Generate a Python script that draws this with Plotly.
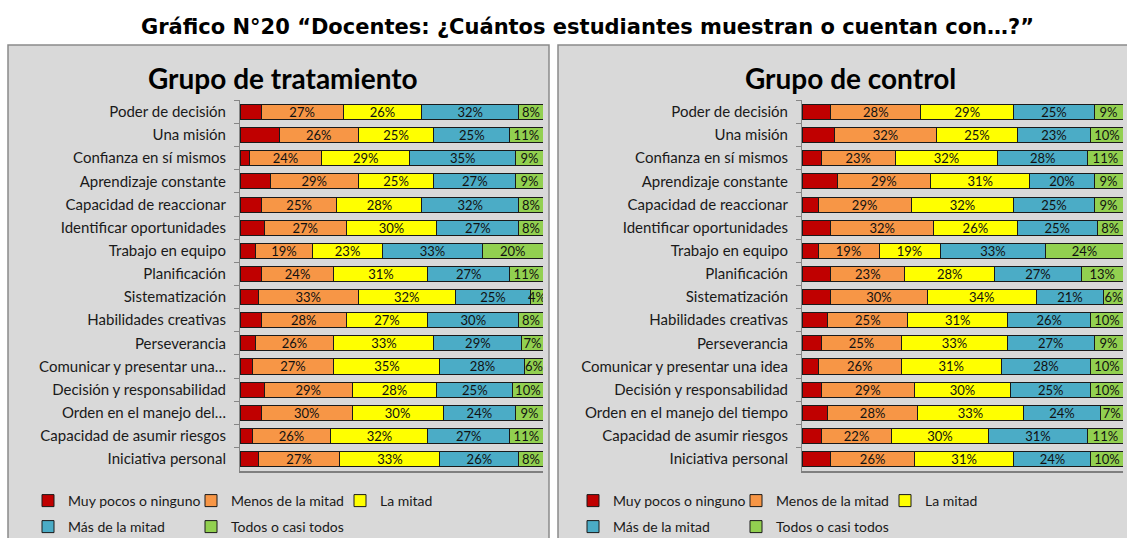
import plotly.graph_objects as go

W, H = 1127, 538

series_names = ["Muy pocos o ninguno", "Menos de la mitad", "La mitad", "Más de la mitad", "Todos o casi todos"]
series_colors = ["#C00000", "#F79646", "#FFFF00", "#4BACC6", "#92D050"]

cats_trat = ["Poder de decisión", "Una misión", "Confianza en sí mismos", "Aprendizaje constante",
             "Capacidad de reaccionar", "Identificar oportunidades", "Trabajo en equipo", "Planificación",
             "Sistematización", "Habilidades creativas", "Perseverancia", "Comunicar y presentar una…",
             "Decisión y responsabilidad", "Orden en el manejo del…", "Capacidad de asumir riesgos",
             "Iniciativa personal"]
cats_ctrl = ["Poder de decisión", "Una misión", "Confianza en sí mismos", "Aprendizaje constante",
             "Capacidad de reaccionar", "Identificar oportunidades", "Trabajo en equipo", "Planificación",
             "Sistematización", "Habilidades creativas", "Perseverancia", "Comunicar y presentar una idea",
             "Decisión y responsabilidad", "Orden en el manejo del tiempo", "Capacidad de asumir riesgos",
             "Iniciativa personal"]

# Grupo de tratamiento
trat_muy_pocos = [7, 13, 3, 10, 7, 8, 5, 7, 6, 7, 5, 4, 8, 7, 4, 6]
trat_menos = [27, 26, 24, 29, 25, 27, 19, 24, 33, 28, 26, 27, 29, 30, 26, 27]
trat_mitad = [26, 25, 29, 25, 28, 30, 23, 31, 32, 27, 33, 35, 28, 30, 32, 33]
trat_mas = [32, 25, 35, 27, 32, 27, 33, 27, 25, 30, 29, 28, 25, 24, 27, 26]
trat_todos = [8, 11, 9, 9, 8, 8, 20, 11, 4, 8, 7, 6, 10, 9, 11, 8]

# Grupo de control
ctrl_muy_pocos = [9, 10, 6, 11, 5, 9, 5, 9, 9, 8, 6, 5, 6, 8, 6, 9]
ctrl_menos = [28, 32, 23, 29, 29, 32, 19, 23, 30, 25, 25, 26, 29, 28, 22, 26]
ctrl_mitad = [29, 25, 32, 31, 32, 26, 19, 28, 34, 31, 33, 31, 30, 33, 30, 31]
ctrl_mas = [25, 23, 28, 20, 25, 25, 33, 27, 21, 26, 27, 28, 25, 24, 31, 24]
ctrl_todos = [9, 10, 11, 9, 9, 8, 24, 13, 6, 10, 9, 10, 10, 7, 11, 10]

trat = [trat_muy_pocos, trat_menos, trat_mitad, trat_mas, trat_todos]
ctrl = [ctrl_muy_pocos, ctrl_menos, ctrl_mitad, ctrl_mas, ctrl_todos]

FONT = "Lato"
fig = go.Figure()

# legend entry widths (text area) per series
legend_widths = [118, 104, 140, 118, 140]

def add_panel(data, cats, xa, ya, legs):
    for i, (name, col, vals) in enumerate(zip(series_names, series_colors, data)):
        fig.add_trace(go.Bar(
            x=vals, y=cats, orientation="h", name=name,
            marker=dict(color=col, line=dict(color="#1a1a1a", width=1)),
            text=None if i == 0 else [f"{v}%" for v in vals],
            textposition="none" if i == 0 else "inside",
            insidetextanchor="middle", textangle=0, constraintext="none",
            textfont=dict(family=FONT, size=13, color="#111111"),
            xaxis=xa, yaxis=ya, legend=legs[0] if i < 3 else legs[1],
            legendwidth=legend_widths[i],
            hoverinfo="x+y+name",
        ))

add_panel(trat, cats_trat, "x", "y", ("legend", "legend2"))
add_panel(ctrl, cats_ctrl, "x2", "y2", ("legend3", "legend4"))

ytop = 1 - 100.4 / H
ybot = 1 - 470.6 / H

axis_common_y = dict(
    autorange="reversed", showline=True, linecolor="#868686", linewidth=1,
    ticks="outside", tickson="boundaries", ticklen=5, tickcolor="#868686",
    tickfont=dict(family=FONT, size=15, color="#1a1a1a"), showgrid=False,
    domain=[ybot, ytop], ticklabelstandoff=10, automargin=False,
)
axis_common_x = dict(range=[0, 100], showticklabels=False, showgrid=False, zeroline=False,
                     showline=True, linecolor="#7f7f7f", linewidth=1.5, ticks="", automargin=False)

legend_common = dict(orientation="h", bgcolor="rgba(0,0,0,0)", entrywidthmode="pixels",
                     font=dict(family=FONT, size=14, color="#1a1a1a"), yanchor="middle", xanchor="left",
                     itemclick=False, itemdoubleclick=False, traceorder="normal")

lx_left = 28 / W
lx_right = 573 / W
ly1 = 1 - 501 / H
ly2 = 1 - 527 / H

fig.update_layout(
    width=W, height=H,
    margin=dict(l=0, r=0, t=0, b=0, autoexpand=False),
    paper_bgcolor="white", plot_bgcolor="rgba(0,0,0,0)",
    barmode="stack", bargap=0.35,
    font=dict(family=FONT),
    xaxis=dict(domain=[240 / W, 543 / W], anchor="y", **axis_common_x),
    yaxis=dict(anchor="x", **axis_common_y),
    xaxis2=dict(domain=[802 / W, 1123 / W], anchor="y2", **axis_common_x),
    yaxis2=dict(anchor="x2", **axis_common_y),
    legend=dict(x=lx_left, y=ly1, **legend_common),
    legend2=dict(x=lx_left, y=ly2, **legend_common),
    legend3=dict(x=lx_right, y=ly1, **legend_common),
    legend4=dict(x=lx_right, y=ly2, **legend_common),
    shapes=[
        dict(type="rect", xref="paper", yref="paper", x0=8 / W, x1=549 / W, y0=-0.02, y1=1 - 45 / H,
             fillcolor="#D9D9D9", line=dict(color="#8a8a8a", width=1.5), layer="below"),
        dict(type="rect", xref="paper", yref="paper", x0=558 / W, x1=1.02, y0=-0.02, y1=1 - 45 / H,
             fillcolor="#D9D9D9", line=dict(color="#8a8a8a", width=1.5), layer="below"),
    ],
    annotations=[
        dict(text="<b>Gráfico N°20 “Docentes: ¿Cuántos estudiantes muestran o cuentan con…?”</b>",
             x=587 / W, y=1 - 27 / H, xref="paper", yref="paper", showarrow=False,
             xanchor="center", yanchor="middle",
             font=dict(family="DejaVu Sans", size=21, color="#000000")),
        dict(text="<b>Grupo de tratamiento</b>", x=283 / W, y=1 - 78 / H, xref="paper", yref="paper",
             showarrow=False, xanchor="center", yanchor="middle",
             font=dict(family=FONT, size=28, color="#000000")),
        dict(text="<b>Grupo de control</b>", x=850 / W, y=1 - 78 / H, xref="paper", yref="paper",
             showarrow=False, xanchor="center", yanchor="middle",
             font=dict(family=FONT, size=28, color="#000000")),
    ],
)

fig.write_html("out.html", config={"displayModeBar": False},
               post_script="document.body.style.margin='0';document.body.style.overflow='hidden';")
